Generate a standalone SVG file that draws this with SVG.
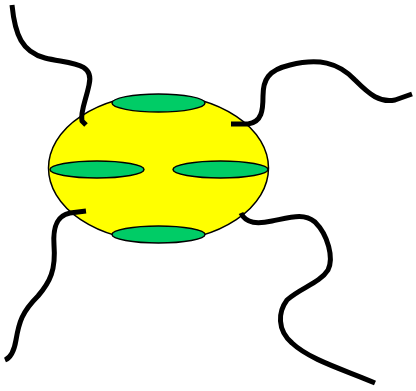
<svg xmlns="http://www.w3.org/2000/svg" width="416" height="391" viewBox="0 0 416 391">
<style>
.body{fill:#ffff00;stroke:#000;stroke-width:1.5}
.pad{fill:#00cc66;stroke:#000;stroke-width:1.5}
.tail{fill:none;stroke:#000;stroke-width:5;stroke-linecap:butt;stroke-linejoin:round}
</style>
<rect width="416" height="391" fill="#fff"/>
<g id="cell">
<ellipse class="body" cx="158.5" cy="168" rx="110" ry="73"/>
</g>
<g id="pad-top"><ellipse class="pad" cx="158.5" cy="103" rx="46.5" ry="9"/></g>
<g id="pad-left"><ellipse class="pad" cx="97" cy="169.5" rx="47" ry="8.5"/></g>
<g id="pad-right"><ellipse class="pad" cx="220.5" cy="169.5" rx="47.5" ry="8.5"/></g>
<g id="pad-bottom"><ellipse class="pad" cx="158.5" cy="234.5" rx="46.5" ry="8.5"/></g>
<g id="connectors">
<path class="tail" d="M12,5 C15,35 22,52 45,58 C70,64 95,62 89,85 C86,100 80,112 82,121 L86,125"/>
<path class="tail" d="M231,124 L248,124 C262,122 263,110 263,96 C263,80 268,70 290,65 C318,58 338,62 355,80 C370,95 380,103 395,100 L412,94"/>
<path class="tail" d="M86,211 L70,213 C55,216 53,230 54,245 C56,270 50,282 38,296 C22,312 19,322 16,340 C14,352 10,358 5,360"/>
<path class="tail" d="M241,213 C246,224 258,224 272,221 C292,217 304,213 315,222 C328,235 334,258 328,270 C320,283 300,288 287,300 C278,312 277,330 292,343 C310,360 345,370 375,383"/>
</g>
</svg>
